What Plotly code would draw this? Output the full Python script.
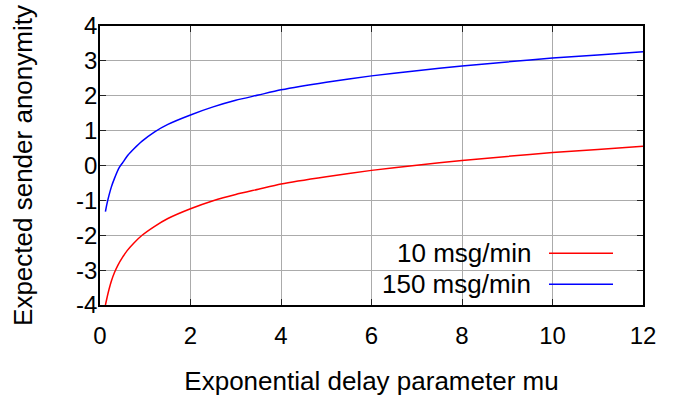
import plotly.graph_objects as go

# Values
mu_red = [0.12, 0.15, 0.2, 0.25, 0.32, 0.4, 0.5, 0.6, 0.75, 0.93, 1.2, 1.5, 2.0, 2.5,
          3.0, 3.5, 4.0, 5.0, 6.0, 7.0, 8.0, 9.0, 10.0, 11.0, 12.0]
anon_10 = [-4.00, -3.82, -3.55, -3.32, -3.07, -2.85, -2.63, -2.44, -2.22, -2.00, -1.75,
           -1.52, -1.24, -1.01, -0.83, -0.68, -0.53, -0.32, -0.14, 0.01, 0.14, 0.26,
           0.37, 0.46, 0.55]
mu_blue = [0.12, 0.15, 0.2, 0.25, 0.32, 0.43, 0.5, 0.62, 0.75, 0.93, 1.2, 1.5, 2.0, 2.5,
           3.0, 3.5, 4.0, 5.0, 6.0, 7.0, 8.0, 9.0, 10.0, 11.0, 12.0]
anon_150 = [-1.32, -1.12, -0.85, -0.62, -0.37, -0.05, 0.08, 0.30, 0.48, 0.70, 0.96,
            1.18, 1.45, 1.68, 1.87, 2.02, 2.17, 2.39, 2.57, 2.72, 2.85, 2.97, 3.08,
            3.17, 3.26]
series_names = ["10 msg/min", "150 msg/min"]
series_colors = ["#ff0000", "#0000ff"]
x_ticks = [0, 2, 4, 6, 8, 10, 12]
y_ticks = [-4, -3, -2, -1, 0, 1, 2, 3, 4]

FONT = "Liberation Sans, Arial, sans-serif"

fig = go.Figure()
for xs, ys, name, col in [(mu_red, anon_10, series_names[0], series_colors[0]),
                          (mu_blue, anon_150, series_names[1], series_colors[1])]:
    fig.add_trace(go.Scatter(x=xs, y=ys, mode="lines", name=name,
                             line=dict(color=col, width=1.5, shape="spline", smoothing=0.6),
                             showlegend=False))

L, R, T, B = 100, 40, 26, 96
W, H = 683, 403
pw, ph = W - L - R, H - T - B

def px2paper(x, y):
    return (x - L) / pw, (H - B - y) / ph

shapes = []
annotations = []
# legend background (gnuplot style key, covers grid)
x0, y0 = px2paper(373, 237)
x1, y1 = px2paper(641, 306.5)
shapes.append(dict(type="rect", xref="paper", yref="paper", x0=x0, x1=x1, y0=y1, y1=y0,
                   fillcolor="white", line=dict(width=0), layer="between"))
for i, (name, col) in enumerate(zip(series_names, series_colors)):
    ty = 255 + i * 31
    tx, typ = px2paper(533, ty)
    annotations.append(dict(text=name, xref="paper", yref="paper", x=tx, y=typ,
                            xanchor="right", yanchor="middle", showarrow=False,
                            font=dict(family=FONT, size=26, color="black")))
    lx0, ly = px2paper(549, ty)
    lx1, _ = px2paper(613, ty)
    shapes.append(dict(type="line", xref="paper", yref="paper", x0=lx0, x1=lx1, y0=ly, y1=ly,
                       line=dict(color=col, width=1.5), layer="above"))

axis_common = dict(showline=True, linecolor="black", linewidth=1.5, mirror="allticks",
                   ticks="inside", ticklen=6, tickwidth=1, tickcolor="#222",
                   showgrid=True, gridcolor="#ababab", gridwidth=1, zeroline=False,
                   tickfont=dict(family=FONT, size=24, color="black"))

fig.update_layout(
    width=W, height=H,
    margin=dict(l=L, r=R, t=T, b=B),
    paper_bgcolor="white", plot_bgcolor="white",
    xaxis=dict(range=[0, 12], tickvals=x_ticks, ticktext=[str(v) for v in x_ticks],
               ticklabelstandoff=8,
               title=dict(text="Exponential delay parameter mu", standoff=24,
                          font=dict(family=FONT, size=26, color="black")),
               **axis_common),
    yaxis=dict(range=[-4, 4], tickvals=y_ticks, ticktext=[str(v) for v in y_ticks],
               ticklabelstandoff=-4,
               title=dict(text="Expected sender anonymity", standoff=36,
                          font=dict(family=FONT, size=26, color="black")),
               **axis_common),
    shapes=shapes, annotations=annotations,
    showlegend=False,
)
fig.write_html("out.html")
